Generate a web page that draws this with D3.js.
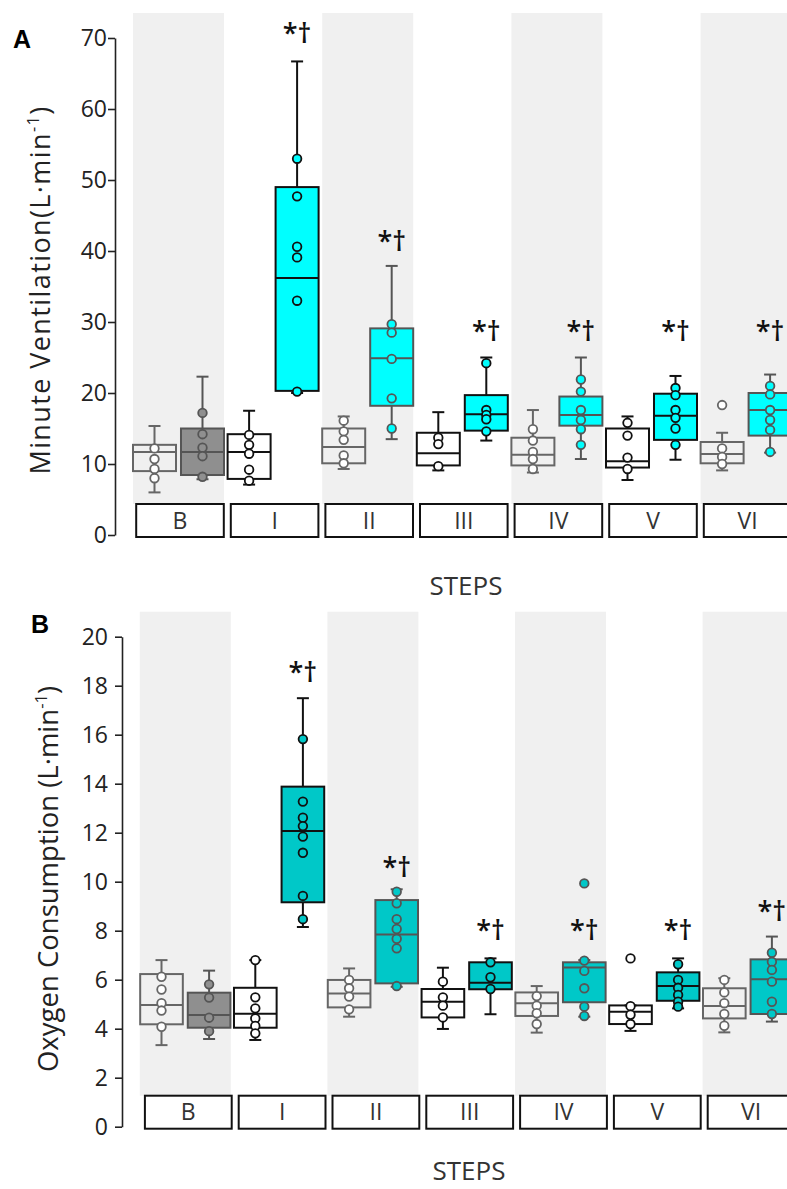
<!DOCTYPE html>
<html>
<head>
<meta charset="utf-8">
<script src="https://cdn.jsdelivr.net/npm/d3@7"></script>
<style>
  body { margin: 0; background: #fff; }
  text { font-family: "Open Sans", "Noto Sans", sans-serif; }
</style>
</head>
<body>
<div id="chart"></div>
<script>
// steps of the protocol
var steps = ["B", "I", "II", "III", "IV", "V", "VI"];

// A - minute ventilation, [whisker low, q1, median, q3, whisker high]
var veCtrlStats = [[6.0, 9.0, 11.7, 12.7, 15.35], [7.1, 7.9, 11.7, 14.2, 17.5], [9.3, 10.1, 12.4, 15.0, 16.7],
                   [9.1, 9.8, 11.5, 14.4, 17.3], [8.8, 9.8, 11.3, 13.7, 17.6], [7.75, 9.5, 10.4, 15.0, 16.7],
                   [9.1, 10.1, 11.4, 13.1, 14.4]];
var veExpStats = [[7.85, 8.45, 11.7, 15.0, 22.3], [20.0, 20.3, 36.2, 49.0, 66.7], [13.5, 18.2, 24.9, 29.1, 37.9],
                  [13.3, 14.7, 17.0, 19.7, 25.0], [10.7, 15.4, 16.9, 19.5, 25.0], [10.6, 13.4, 16.8, 19.9, 22.4],
                  [11.6, 14.0, 17.6, 20.0, 22.6]];
var veCtrlPts = [[12.2, 10.7, 9.3, 8.0], [14.1, 12.7, 11.45, 9.2, 7.65], [16.1, 14.6, 13.4, 11.2, 10.1],
                 [13.7, 12.8, 9.7], [14.9, 13.3, 11.7, 10.7, 9.3], [15.8, 14.0, 10.9, 9.3],
                 [18.3, 12.2, 11.0, 10.0]];
var veExpPts = [[17.2, 14.2, 12.3, 11.1, 8.2], [53.0, 47.7, 40.6, 39.1, 33.0, 20.2], [29.7, 28.5, 24.8, 19.25, 15.0],
                [24.2, 17.6, 16.9, 16.3, 14.6], [21.9, 20.2, 17.6, 16.2, 14.9, 12.7], [20.7, 19.7, 17.6, 16.5, 15.0, 12.7],
                [21.0, 19.8, 17.6, 16.2, 14.8, 11.7]];
var veSigAt = [null, 69.3, 40.0, 27.3, 27.3, 27.3, 27.3];
var veTicks = [0, 10, 20, 30, 40, 50, 60, 70];

// B - oxygen consumption
var voCtrlStats = [[3.33, 4.18, 4.97, 6.23, 6.8], [3.54, 4.04, 4.61, 5.67, 6.8], [4.49, 4.87, 5.44, 5.99, 6.46],
                   [3.99, 4.46, 5.1, 5.62, 6.49], [3.84, 4.52, 5.04, 5.48, 5.74], [3.91, 4.19, 4.69, 4.95, 4.95],
                   [3.85, 4.42, 4.93, 5.65, 6.06]];
var voExpStats = [[3.58, 4.04, 4.56, 5.47, 6.37], [8.15, 9.16, 12.07, 13.88, 17.49], [5.71, 5.85, 7.85, 9.25, 9.69],
                  [4.59, 5.61, 5.88, 6.71, 6.87], [4.49, 5.08, 6.5, 6.71, 6.8], [4.83, 5.14, 5.74, 6.3, 6.87],
                  [4.29, 4.6, 6.02, 6.83, 7.76]];
var voCtrlPts = [[6.12, 5.6, 5.04, 4.74, 4.08], [6.8, 5.28, 4.83, 4.42, 4.11, 3.81], [5.99, 5.65, 5.31, 4.79],
                 [5.92, 5.28, 4.94, 4.46], [5.33, 4.94, 4.63, 4.19], [6.87, 4.92, 4.57, 4.19],
                 [5.99, 5.48, 5.04, 4.6, 4.12]];
var voExpPts = [[5.81, 5.27, 4.45, 3.9], [15.82, 13.27, 12.61, 12.27, 11.84, 11.18, 9.42, 8.47],
                [9.59, 9.12, 8.47, 8.07, 7.67, 7.28, 5.74], [6.71, 6.1, 5.62], [9.93, 6.78, 6.36, 5.65, 4.9, 4.52],
                [6.63, 5.99, 5.67, 5.38, 5.1, 4.9], [7.1, 6.73, 6.4, 5.92, 5.1, 4.6]];
var voSigAt = [null, 18.15, 10.19, 7.62, 7.62, 7.62, 8.4];
var voTicks = [0, 2, 4, 6, 8, 10, 12, 14, 16, 18, 20];

var svg = d3.select("#chart").append("svg")
    .attr("width", 787)
    .attr("height", 1189);

// panel A
drawPanel({
  letter: "A", letterX: 13, letterY: 48,
  title: "Minute Ventilation(L\u00b7min", titleX: 50, titleY: 290, titleSize: 27, titleSpacing: 1.4,
  xRange: [131.2, 793.4], axisX: 115, tickPad: 1,
  yDomain: [0, 70], yRange: [535, 38], ticks: veTicks,
  ctrl: veCtrlStats, exp: veExpStats, ctrlPts: veCtrlPts, expPts: veExpPts, sig: veSigAt,
  cyan: "#00ffff", labelInset: 5, stepsX: 466, stepsY: 595
});

// panel B
drawPanel({
  letter: "B", letterX: 31, letterY: 633,
  title: "Oxygen Consumption (L\u00b7min", titleX: 58, titleY: 879, titleSize: 27.5, titleSpacing: 0,
  xRange: [138.4, 795], axisX: 122, tickPad: 7,
  yDomain: [0, 20], yRange: [1126.7, 636.7], ticks: voTicks,
  ctrl: voCtrlStats, exp: voExpStats, ctrlPts: voCtrlPts, expPts: voExpPts, sig: voSigAt,
  cyan: "#00c8c8", labelInset: 6.5, stepsX: 469, stepsY: 1180
});

function drawPanel(p) {
  var x = d3.scaleBand().domain(steps).range(p.xRange);
  var sub = d3.scaleBand().domain(["ctrl", "exp"])
      .range([0, x.bandwidth()])
      .paddingInner(0.104)
      .paddingOuter(0.0375);
  var y = d3.scaleLinear().domain(p.yDomain).range(p.yRange);
  var y0 = y(0);
  var g = svg.append("g");

  // grey bands behind every other step
  g.selectAll(".band")
    .data(steps.filter(function(d, i) { return i % 2 === 0; }))
    .enter().append("rect")
      .attr("x", function(d) { return x(d) + x.bandwidth() / 2 - 45.5; })
      .attr("y", y.range()[1] - 25)
      .attr("width", 91)
      .attr("height", (y0 - 31) - (y.range()[1] - 25))
      .attr("fill", "#f0f0f0");

  // y axis
  g.append("g")
    .attr("transform", "translate(" + p.axisX + ",0)")
    .call(d3.axisLeft(y).tickValues(p.ticks).tickSize(7).tickSizeOuter(0).tickPadding(p.tickPad))
    .call(function(a) {
      a.selectAll("path, line").attr("stroke", "#222").attr("stroke-width", 1.6);
      a.selectAll("text").attr("font-size", 23).attr("fill", "#222")
        .style("font-family", "'Open Sans', sans-serif");
    });

  // y title
  var t = g.append("text")
    .attr("transform", "translate(" + p.titleX + "," + p.titleY + ") rotate(-90)")
    .attr("text-anchor", "middle")
    .attr("font-size", p.titleSize)
    .attr("letter-spacing", p.titleSpacing)
    .attr("fill", "#222");
  t.append("tspan").text(p.title);
  t.append("tspan").attr("font-size", p.titleSize * 0.6).attr("dy", -11).text("-1");
  t.append("tspan").attr("dy", 11).text(")");

  // panel letter
  g.append("text")
    .attr("x", p.letterX).attr("y", p.letterY)
    .attr("font-size", 25).attr("font-weight", "bold")
    .style("font-family", "'Liberation Sans', Arial, sans-serif")
    .text(p.letter);

  // boxes
  steps.forEach(function(s, i) {
    var dark = (i % 2 === 0) ? "#555" : "#111";
    var groups = [
      {key: "ctrl", st: p.ctrl[i], pts: p.ctrlPts[i], fill: "none", pfill: "#fff", stroke: i % 2 === 0 ? "#666" : "#111"},
      {key: "exp", st: p.exp[i], pts: p.expPts[i], fill: i === 0 ? "#8f8f8f" : p.cyan,
       pfill: i === 0 ? "#8f8f8f" : p.cyan, stroke: dark}
    ];
    groups.forEach(function(gr) {
      var bx = x(s) + sub(gr.key);
      var bw = sub.bandwidth();
      var cx = bx + bw / 2;
      var st = gr.st;
      var bg = g.append("g").attr("stroke", gr.stroke).attr("stroke-width", 2);
      // whiskers
      bg.append("line").attr("x1", cx).attr("x2", cx).attr("y1", y(st[3])).attr("y2", y(st[4]));
      bg.append("line").attr("x1", cx).attr("x2", cx).attr("y1", y(st[1])).attr("y2", y(st[0]));
      bg.append("line").attr("x1", cx - 6).attr("x2", cx + 6).attr("y1", y(st[4])).attr("y2", y(st[4]));
      bg.append("line").attr("x1", cx - 6).attr("x2", cx + 6).attr("y1", y(st[0])).attr("y2", y(st[0]));
      // box
      bg.append("rect")
        .attr("x", bx).attr("width", bw)
        .attr("y", y(st[3])).attr("height", y(st[1]) - y(st[3]))
        .attr("fill", gr.fill);
      bg.append("line").attr("x1", bx).attr("x2", bx + bw).attr("y1", y(st[2])).attr("y2", y(st[2]));
      // points
      bg.selectAll("circle")
        .data(gr.pts)
        .enter().append("circle")
          .attr("cx", cx)
          .attr("cy", function(d) { return y(d); })
          .attr("r", 4.3)
          .attr("fill", gr.pfill)
          .attr("stroke-width", 1.8);
    });

    // significance mark
    if (p.sig[i] !== null) {
      g.append("text")
        .attr("x", x(s) + sub("exp") + sub.bandwidth() / 2)
        .attr("y", y(p.sig[i]))
        .attr("text-anchor", "middle")
        .attr("font-size", 27)
        .attr("font-weight", 600)
        .attr("fill", "#111")
        .text("*\u2020");
    }
  });

  // step label boxes
  var lb = g.selectAll(".lbl")
    .data(steps)
    .enter().append("g");
  lb.append("rect")
    .attr("x", function(d) { return x(d) + p.labelInset; })
    .attr("y", y0 - 31)
    .attr("width", x.bandwidth() - 7)
    .attr("height", 33)
    .attr("fill", "#fff")
    .attr("stroke", "#111")
    .attr("stroke-width", 2);
  lb.append("text")
    .attr("x", function(d) { return x(d) + p.labelInset + (x.bandwidth() - 7) / 2; })
    .attr("y", y0 - 14.5)
    .attr("dy", "0.36em")
    .attr("text-anchor", "middle")
    .attr("font-size", 23)
    .attr("fill", "#333")
    .text(function(d) { return d; });

  // x title
  g.append("text")
    .attr("x", p.stepsX).attr("y", p.stepsY)
    .attr("text-anchor", "middle")
    .attr("font-size", 26)
    .attr("fill", "#333")
    .text("STEPS");
}
</script>
</body>
</html>
